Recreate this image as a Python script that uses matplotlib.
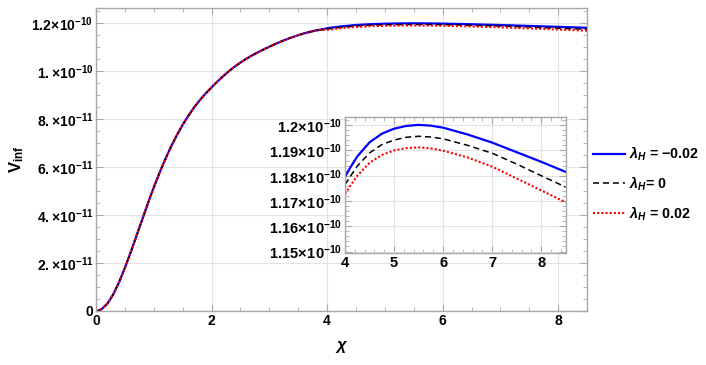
import numpy as np
import matplotlib.pyplot as plt
from matplotlib.ticker import FixedLocator, FixedFormatter, MultipleLocator

plt.rcParams['font.family'] = ['Liberation Sans', 'DejaVu Sans']
plt.rcParams['font.weight'] = 'bold'
plt.rcParams['mathtext.fontset'] = 'custom'
plt.rcParams['mathtext.rm'] = 'Liberation Sans:bold'
plt.rcParams['mathtext.it'] = 'Liberation Sans:bold:italic'
plt.rcParams['mathtext.bf'] = 'Liberation Sans:bold'

# rising part, shared by all three curves (they overlap here), V in 1e-12
chi_rise = [0.0, 0.05, 0.1, 0.2, 0.3, 0.4, 0.5, 0.6, 0.7, 0.8, 0.9, 1.0, 1.1,
            1.2, 1.3, 1.4, 1.5, 1.6, 1.7, 1.8, 1.9, 2.0, 2.1, 2.2, 2.3, 2.4,
            2.5, 2.6, 2.7, 2.8, 2.9, 3.0, 3.1, 3.2, 3.3, 3.4, 3.5, 3.6, 3.7,
            3.8, 3.9]
v_rise = [0.0, 0.2, 0.8, 3.15, 7.0, 12.05, 18.0, 24.5, 31.3, 38.2, 45.0, 51.6,
          57.7, 63.4, 68.65, 73.4, 77.7, 81.5, 85.0, 88.05, 90.8, 93.3, 95.7,
          97.95, 100.05, 101.95, 103.65, 105.2, 106.6, 107.9, 109.1,
          110.25, 111.35, 112.4, 113.35, 114.25, 115.05, 115.8, 116.45, 117.0,
          117.4]

# plateau part, V in 1e-10
chi_top = [4.0, 4.1, 4.25, 4.5, 4.75, 5.0, 5.25, 5.5, 5.75, 6.0, 6.5, 7.0,
           7.5, 8.0, 8.5]
v_blue = [1.1796, 1.1830, 1.1876, 1.1932, 1.1966, 1.1986, 1.1997, 1.2001,
          1.1998, 1.1990, 1.1963, 1.1931, 1.1893, 1.1855, 1.1815]
v_black = [1.1765, 1.1795, 1.1838, 1.1890, 1.1923, 1.1941, 1.1952, 1.1956,
           1.1953, 1.1946, 1.1920, 1.1889, 1.1846, 1.1800, 1.1755]
v_red = [1.1728, 1.1758, 1.1800, 1.1851, 1.1882, 1.1900, 1.1909, 1.1912,
         1.1908, 1.1899, 1.1872, 1.1836, 1.1789, 1.1742, 1.1695]

labels = [r'$\lambda_H$ = −0.02', r'$\lambda_H$= 0', r'$\lambda_H$ = 0.02']

main_yticks = [0, 2e-11, 4e-11, 6e-11, 8e-11, 1e-10, 1.2e-10]
main_ylabels = ['0', r'$2.\!\times\!10^{-11}$', r'$4.\!\times\!10^{-11}$',
                r'$6.\!\times\!10^{-11}$', r'$8.\!\times\!10^{-11}$',
                r'$1.\!\times\!10^{-10}$', r'$1.2\!\times\!10^{-10}$']
inset_yticks = [1.15e-10, 1.16e-10, 1.17e-10, 1.18e-10, 1.19e-10, 1.2e-10]
inset_ylabels = [r'$1.15\!\times\!10^{-10}$', r'$1.16\!\times\!10^{-10}$',
                 r'$1.17\!\times\!10^{-10}$', r'$1.18\!\times\!10^{-10}$',
                 r'$1.19\!\times\!10^{-10}$', r'$1.2\!\times\!10^{-10}$']

styles = [dict(color='#0000ff', lw=1.6, ls='-'),
          dict(color='black', lw=1.1, ls=(0, (4, 2.5))),
          dict(color='#ff0000', lw=1.5, ls=(0, (1, 1)))]

rise_x = np.array(chi_rise)
rise_y = np.array(v_rise) * 1e-12
top_x = np.array(chi_top)
series = [np.array(v) * 1e-10 for v in (v_blue, v_black, v_red)]

frame_col = '#a8a8a8'
grid_col = '#e2e2e2'


def style_axes(ax):
    for s in ax.spines.values():
        s.set_color(frame_col)
        s.set_linewidth(1.0)
    ax.tick_params(which='both', direction='in', top=True, right=True,
                   color=frame_col, labelsize=10, pad=2)
    ax.tick_params(which='major', length=5)
    ax.tick_params(which='minor', length=3)
    ax.grid(True, which='major', color=grid_col, lw=0.8)
    ax.set_axisbelow(True)


fig = plt.figure(figsize=(7.06, 3.65), dpi=100)
ax = fig.add_axes([0.136, 0.148, 0.6955, 0.829])

lines = []
for v, st, lab in zip(series, styles, labels):
    x = np.concatenate([rise_x, top_x])
    y = np.concatenate([rise_y, v])
    ln, = ax.plot(x, y, label=lab, **st)
    lines.append(ln)

ax.set_xlim(0, 8.5)
ax.set_ylim(0, 1.2625e-10)
ax.xaxis.set_major_locator(FixedLocator([0, 2, 4, 6, 8]))
ax.xaxis.set_minor_locator(MultipleLocator(0.5))
ax.yaxis.set_major_locator(FixedLocator(main_yticks))
ax.yaxis.set_major_formatter(FixedFormatter(main_ylabels))
ax.yaxis.set_minor_locator(MultipleLocator(0.5e-11))
style_axes(ax)
ax.set_xlabel(r'$\chi$', fontsize=12, labelpad=8)
ax.set_ylabel(r'$\mathrm{V}_{\mathrm{inf}}$', fontsize=12, labelpad=4)

# inset
axi = fig.add_axes([0.4887, 0.306, 0.3126, 0.374])
axi.set_facecolor('white')
for v, st in zip(series, styles):
    axi.plot(top_x, v, **st)
axi.set_xlim(4, 8.5)
axi.set_ylim(1.1493e-10, 1.2033e-10)
axi.xaxis.set_major_locator(FixedLocator([4, 5, 6, 7, 8]))
axi.xaxis.set_minor_locator(MultipleLocator(0.2))
axi.yaxis.set_major_locator(FixedLocator(inset_yticks))
axi.yaxis.set_major_formatter(FixedFormatter(inset_ylabels))
axi.yaxis.set_minor_locator(MultipleLocator(0.002e-10))
style_axes(axi)
axi.tick_params(which='major', labelsize=10.5)

fig.legend(handles=lines, loc='center left', bbox_to_anchor=(0.836, 0.497),
           frameon=False, handlelength=2.2, handletextpad=0.3,
           labelspacing=0.8, borderaxespad=0.0, borderpad=0.2,
           prop={'weight': 'bold', 'size': 10.3})

fig.savefig('out.png', dpi=100)
